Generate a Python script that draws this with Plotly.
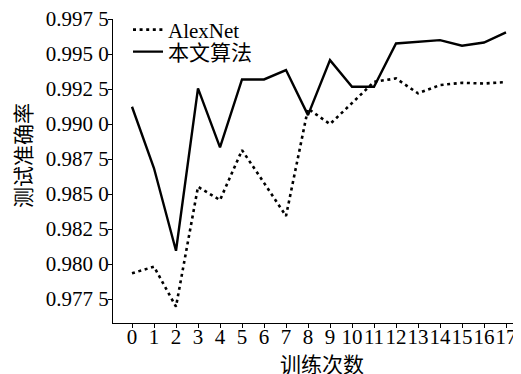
import plotly.graph_objects as go

epochs = list(range(18))
alexnet = [0.97934, 0.97981, 0.97695, 0.98552, 0.98457, 0.98814, 0.98580, 0.98343,
           0.99110, 0.99000, 0.99150, 0.99302, 0.99326, 0.99220, 0.99279, 0.99295,
           0.99290, 0.99300]
ours = [0.99124, 0.98684, 0.98095, 0.99255, 0.98834, 0.99319, 0.99319, 0.99386,
        0.99064, 0.99457, 0.99267, 0.99267, 0.99576, 0.99588, 0.99600, 0.99560,
        0.99583, 0.99655]
ytick_vals = [0.9775, 0.9800, 0.9825, 0.9850, 0.9875, 0.9900, 0.9925, 0.9950, 0.9975]
ytick_text = ["0.977 5", "0.980 0", "0.982 5", "0.985 0", "0.987 5",
              "0.990 0", "0.992 5", "0.995 0", "0.997 5"]
series_names = ["AlexNet", "本文算法"]
x_title = "训练次数"
y_title = "测试准确率"

OFF = 8  # page body margin
W, H = 521 - OFF, 374 - OFF
L, T = 113 - OFF, 19 - OFF
R = 0
B = H - (323 - OFF)
pw, ph = W - L - R, H - T - B


def px(wx):
    return (wx - 113) / pw


def py(wy):
    return (323 - wy) / ph


fam = "Liberation Serif, Noto Sans CJK SC"
cjk = "Noto Sans CJK SC"

fig = go.Figure()
fig.add_trace(go.Scatter(x=epochs, y=alexnet, mode="lines", name=series_names[0],
                         legend="legend",
                         line=dict(color="black", width=2.6, dash="3px,3.6px")))
fig.add_trace(go.Scatter(x=epochs, y=ours, mode="lines", name=series_names[1],
                         legend="legend2",
                         line=dict(color="black", width=2.4)))

leg_common = dict(xanchor="left", yanchor="middle", bgcolor="rgba(0,0,0,0)",
                  itemwidth=30, font=dict(family=fam, size=21, color="black"))

fig.update_layout(
    width=W, height=H,
    margin=dict(l=L, r=R, t=T, b=B, autoexpand=False),
    paper_bgcolor="white", plot_bgcolor="white",
    font=dict(family=fam, size=21, color="black"),
    showlegend=True,
    legend=dict(x=px(128), y=py(30), **leg_common),
    legend2=dict(x=px(128), y=py(52), **leg_common),
    xaxis=dict(range=[-(132 - 113) / 22, -(132 - 113) / 22 + pw / 22],
               tickmode="array", tickvals=epochs, ticktext=[str(e) for e in epochs],
               tickangle=0, automargin=False, ticklabelstandoff=-9,
               ticklabeloverflow="allow",
               showgrid=False, zeroline=False, showline=True, linecolor="black", linewidth=1.2,
               ticks="outside", ticklen=4, tickcolor="black", tickwidth=1,
               tickfont=dict(family=fam, size=21, color="black")),
    yaxis=dict(range=[0.9775 - (323 - 299) / 35 * 0.0025, 0.99751],
               tickmode="array", tickvals=ytick_vals, ticktext=ytick_text,
               automargin=False, ticklabelstandoff=-5, ticklabeloverflow="allow",
               showgrid=False, zeroline=False, showline=True, linecolor="black", linewidth=1.2,
               ticks="outside", ticklen=4, tickcolor="black", tickwidth=1,
               tickfont=dict(family=fam, size=21, color="black")),
    annotations=[
        dict(text=x_title, xref="paper", yref="paper", x=px(322), y=py(363),
             xanchor="center", yanchor="middle", showarrow=False,
             font=dict(family=cjk, size=21, color="black")),
        dict(text=y_title, xref="paper", yref="paper", x=px(22), y=py(156),
             xanchor="center", yanchor="middle", showarrow=False, textangle=-90,
             font=dict(family=cjk, size=21, color="black")),
    ],
)

fig.write_html("out.html")
